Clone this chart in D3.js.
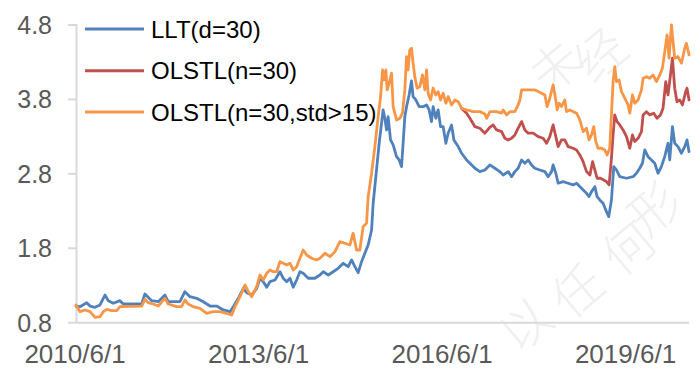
<!DOCTYPE html>
<html>
<head>
<meta charset="utf-8">
<script src="https://cdn.jsdelivr.net/npm/d3@7"></script>
<style>
  html, body { margin: 0; padding: 0; background: #fff; }
  svg { display: block; }
</style>
</head>
<body>
<svg id="chart" width="699" height="378"></svg>
<script>
// ---------- data (decimal year, value) ----------
const seriesNames = ["LLT(d=30)", "OLSTL(n=30)", "OLSTL(n=30,std>15)"];
const seriesColors = ["#4F81BD", "#C0504D", "#F79646"];
const xTickLabels = ["2010/6/1", "2013/6/1", "2016/6/1", "2019/6/1"];
const yTickValues = [0.8, 1.8, 2.8, 3.8, 4.8];
const watermarkChars = ["未", "经", "以", "任", "何", "形"];

const lltData = [
[2010.414,1.024],[2010.479,1.015],[2010.589,1.069],[2010.643,1.024],[2010.724,1.007],[2010.806,1.038],
[2010.888,1.172],[2010.942,1.096],[2011.024,1.061],[2011.133,1.096],[2011.187,1.051],[2011.488,1.051],
[2011.541,1.186],[2011.595,1.141],[2011.651,1.096],[2011.759,1.082],[2011.868,1.172],[2011.922,1.082],
[2012.113,1.082],[2012.195,1.217],[2012.277,1.149],[2012.386,1.128],[2012.494,1.082],[2012.604,1.024],
[2012.713,1.024],[2012.821,0.971],[2012.930,0.948],[2012.984,1.015],[2013.066,1.128],[2013.148,1.262],
[2013.203,1.203],[2013.285,1.172],[2013.367,1.262],[2013.421,1.397],[2013.475,1.351],[2013.530,1.276],
[2013.584,1.351],[2013.666,1.374],[2013.747,1.485],[2013.801,1.397],[2013.857,1.351],[2013.911,1.397],
[2013.965,1.276],[2014.020,1.374],[2014.074,1.485],[2014.128,1.464],[2014.210,1.397],[2014.319,1.397],
[2014.401,1.441],[2014.455,1.485],[2014.537,1.441],[2014.618,1.485],[2014.700,1.531],[2014.782,1.598],
[2014.863,1.553],[2014.919,1.643],[2014.973,1.553],[2015.027,1.472],[2015.082,1.620],[2015.136,1.733],
[2015.190,1.844],[2015.246,2.046],[2015.272,2.405],[2015.327,2.852],[2015.370,3.211],[2015.409,3.480],
[2015.435,3.659],[2015.463,3.547],[2015.491,3.390],[2015.517,3.569],[2015.556,3.256],[2015.599,3.188],
[2015.654,3.031],[2015.697,2.987],[2015.736,2.897],[2015.762,3.211],[2015.790,3.569],[2015.818,3.703],
[2015.860,3.860],[2015.899,4.049],[2015.925,3.838],[2015.970,3.793],[2016.024,3.703],[2016.089,3.703],
[2016.145,3.726],[2016.187,3.659],[2016.226,3.502],[2016.252,3.703],[2016.296,3.547],[2016.334,3.659],
[2016.373,3.434],[2016.416,3.434],[2016.460,3.211],[2016.497,3.346],[2016.553,3.457],[2016.591,3.256],
[2016.661,3.166],[2016.716,3.077],[2016.798,2.987],[2016.852,2.942],[2016.934,2.875],[2017.015,2.830],
[2017.097,2.852],[2017.179,2.920],[2017.260,2.875],[2017.342,2.830],[2017.396,2.785],[2017.478,2.830],
[2017.533,2.762],[2017.587,2.830],[2017.641,2.875],[2017.697,2.987],[2017.751,2.942],[2017.805,2.987],
[2017.860,2.920],[2017.914,2.875],[2017.996,2.852],[2018.078,2.830],[2018.132,2.762],[2018.187,2.830],
[2018.213,2.920],[2018.257,2.808],[2018.295,2.674],[2018.377,2.695],[2018.458,2.674],[2018.540,2.651],
[2018.596,2.674],[2018.677,2.606],[2018.759,2.539],[2018.801,2.494],[2018.841,2.561],[2018.895,2.628],
[2018.932,2.494],[2018.976,2.449],[2019.030,2.405],[2019.086,2.292],[2019.123,2.225],[2019.167,2.449],
[2019.205,2.897],[2019.249,2.852],[2019.303,2.762],[2019.413,2.741],[2019.521,2.762],[2019.576,2.808],
[2019.630,2.875],[2019.674,2.942],[2019.712,3.121],[2019.766,3.031],[2019.821,2.987],[2019.875,2.942],
[2019.929,2.808],[2019.984,2.897],[2020.038,3.031],[2020.092,3.211],[2020.120,2.987],[2020.164,3.434],
[2020.201,3.211],[2020.255,3.166],[2020.311,3.077],[2020.365,3.166],[2020.402,3.256],[2020.435,3.098]
];

const olstlData = [
[2016.716,3.682],[2016.798,3.615],[2016.852,3.547],[2016.934,3.434],[2017.015,3.413],[2017.097,3.346],
[2017.179,3.426],[2017.233,3.457],[2017.288,3.390],[2017.370,3.367],[2017.424,3.278],[2017.478,3.256],
[2017.533,3.278],[2017.587,3.323],[2017.641,3.413],[2017.697,3.502],[2017.751,3.390],[2017.805,3.346],
[2017.887,3.346],[2017.968,3.300],[2018.050,3.278],[2018.105,3.211],[2018.159,3.300],[2018.213,3.457],
[2018.257,3.300],[2018.295,3.166],[2018.350,3.256],[2018.404,3.256],[2018.458,3.166],[2018.540,3.144],
[2018.596,3.121],[2018.650,3.054],[2018.704,2.964],[2018.759,2.830],[2018.815,2.785],[2018.859,2.964],
[2018.895,2.852],[2018.932,2.741],[2018.988,2.741],[2019.042,2.718],[2019.086,2.695],[2019.129,2.651],
[2019.167,3.010],[2019.194,3.323],[2019.221,3.592],[2019.259,3.502],[2019.303,3.457],[2019.357,3.390],
[2019.413,3.300],[2019.467,3.144],[2019.511,3.323],[2019.548,3.233],[2019.603,3.278],[2019.658,3.367],
[2019.685,3.592],[2019.740,3.636],[2019.794,3.592],[2019.859,3.615],[2019.913,3.547],[2019.969,3.592],
[2020.011,3.682],[2020.055,4.039],[2020.092,3.860],[2020.132,4.129],[2020.164,4.354],[2020.201,3.951],
[2020.239,3.770],[2020.283,3.793],[2020.327,3.726],[2020.381,3.905],[2020.402,3.951],[2020.435,3.793]
];

const olstlStdData = [
[2010.414,1.038],[2010.479,0.948],[2010.561,0.971],[2010.643,0.948],[2010.724,0.873],[2010.806,0.881],
[2010.860,0.948],[2010.916,0.980],[2010.997,0.961],[2011.079,0.961],[2011.133,1.015],[2011.488,1.024],
[2011.541,1.115],[2011.595,1.069],[2011.677,1.051],[2011.759,1.024],[2011.868,1.128],[2011.922,1.051],
[2012.059,1.015],[2012.141,1.015],[2012.195,1.105],[2012.249,1.051],[2012.331,1.015],[2012.440,0.994],
[2012.550,0.926],[2012.657,0.948],[2012.767,0.948],[2012.876,0.926],[2012.958,0.903],[2013.012,1.015],
[2013.094,1.149],[2013.175,1.307],[2013.229,1.217],[2013.285,1.149],[2013.367,1.284],[2013.421,1.441],
[2013.475,1.374],[2013.530,1.464],[2013.584,1.508],[2013.638,1.485],[2013.694,1.485],[2013.747,1.620],
[2013.801,1.598],[2013.857,1.576],[2013.911,1.598],[2013.965,1.508],[2014.020,1.553],[2014.074,1.666],
[2014.128,1.777],[2014.184,1.710],[2014.265,1.666],[2014.347,1.643],[2014.401,1.666],[2014.483,1.733],
[2014.564,1.687],[2014.646,1.754],[2014.728,1.889],[2014.810,1.867],[2014.891,1.844],[2014.945,2.002],
[2015.000,1.777],[2015.054,1.777],[2015.108,2.090],[2015.164,2.136],[2015.190,2.494],[2015.246,2.808],
[2015.300,3.166],[2015.354,3.569],[2015.393,3.838],[2015.426,4.197],[2015.447,4.062],[2015.480,4.197],
[2015.501,3.928],[2015.534,4.018],[2015.573,4.152],[2015.599,3.703],[2015.654,3.524],[2015.708,3.547],
[2015.752,3.615],[2015.790,3.928],[2015.818,4.375],[2015.844,4.197],[2015.871,4.465],[2015.899,4.488],
[2015.925,4.287],[2015.953,4.106],[2015.991,3.951],[2016.035,3.972],[2016.079,4.129],[2016.117,3.928],
[2016.145,4.197],[2016.170,3.883],[2016.210,3.793],[2016.252,3.951],[2016.296,3.860],[2016.334,3.905],
[2016.373,3.793],[2016.416,3.883],[2016.460,3.749],[2016.497,3.838],[2016.553,3.726],[2016.607,3.793],
[2016.661,3.770],[2016.716,3.682],[2016.798,3.659],[2016.906,3.636],[2017.015,3.636],[2017.097,3.605],
[2017.125,3.547],[2017.179,3.636],[2017.288,3.636],[2017.370,3.615],[2017.396,3.659],[2017.452,3.592],
[2017.506,3.636],[2017.587,3.636],[2017.641,3.726],[2017.669,3.793],[2017.697,3.928],[2017.805,3.928],
[2017.914,3.928],[2017.968,3.905],[2018.024,3.883],[2018.078,3.860],[2018.115,3.703],[2018.159,3.816],
[2018.213,3.995],[2018.257,3.793],[2018.279,3.659],[2018.311,3.749],[2018.350,3.703],[2018.404,3.793],
[2018.432,3.636],[2018.486,3.659],[2018.540,3.636],[2018.596,3.615],[2018.650,3.524],[2018.704,3.367],
[2018.759,3.413],[2018.801,3.256],[2018.841,3.323],[2018.878,3.434],[2018.911,3.233],[2018.948,3.144],
[2019.004,3.144],[2019.058,3.121],[2019.095,3.054],[2019.139,3.144],[2019.167,3.592],[2019.194,4.039],
[2019.221,4.241],[2019.249,4.039],[2019.292,4.062],[2019.331,3.905],[2019.385,3.816],[2019.439,3.726],
[2019.467,3.615],[2019.511,3.860],[2019.548,3.749],[2019.603,3.793],[2019.658,3.928],[2019.685,4.085],
[2019.740,4.106],[2019.794,4.085],[2019.847,4.129],[2019.903,4.039],[2019.957,4.129],[2020.001,4.219],
[2020.039,4.442],[2020.077,4.667],[2020.109,4.354],[2020.148,4.801],[2020.174,4.577],[2020.201,4.354],
[2020.255,4.375],[2020.311,4.287],[2020.365,4.488],[2020.392,4.555],[2020.435,4.398]
];

// ---------- helpers ----------
function fromYear(t) {
  const y = Math.floor(t);
  const s = new Date(y, 0, 1), e = new Date(y + 1, 0, 1);
  return new Date(+s + (t - y) * (e - s));
}
const parseTick = d3.timeParse("%Y/%m/%d");

// ---------- layout ----------
const svg = d3.select("#chart");
const x = d3.scaleTime()
  .domain([new Date(2010, 5, 1), new Date(2020, 5, 8)])
  .range([76, 689]);
const y = d3.scaleLinear().domain([0.8, 4.8]).range([322.7, 25]);

// watermark (faint, rotated characters)
const wmPos = [[553, 64], [598, 52], [523, 322], [575, 288], [626, 245], [652, 206]];
svg.append("g").selectAll("text").data(watermarkChars).join("text")
  .attr("transform", (d, i) => `translate(${wmPos[i][0]},${wmPos[i][1]}) rotate(-40)`)
  .attr("text-anchor", "middle")
  .attr("dominant-baseline", "central")
  .attr("fill", "#f0f0f0")
  .style("font-family", "'Noto Sans CJK SC', sans-serif")
  .style("font-weight", 300)
  .style("font-size", "50px")
  .text(d => d);

// axes
const axisColor = "#d9d9d9";
svg.append("line")
  .attr("x1", x.range()[0]).attr("x2", x.range()[1])
  .attr("y1", y(0.8)).attr("y2", y(0.8))
  .attr("stroke", axisColor).attr("stroke-width", 2);
svg.append("line")
  .attr("x1", 76.5).attr("x2", 76.5)
  .attr("y1", y(4.8) - 1).attr("y2", y(0.8))
  .attr("stroke", axisColor).attr("stroke-width", 2);

const yAxis = svg.append("g");
yAxis.selectAll("line").data(yTickValues).join("line")
  .attr("x1", 68).attr("x2", 76)
  .attr("y1", d => y(d)).attr("y2", d => y(d))
  .attr("stroke", axisColor).attr("stroke-width", 2);
yAxis.selectAll("text").data(yTickValues).join("text")
  .attr("x", 52).attr("y", d => y(d) + 9)
  .attr("text-anchor", "end")
  .attr("fill", "#595959")
  .style("font-family", "'Liberation Sans', Arial, sans-serif")
  .style("font-size", "25px")
  .text(d => d3.format(".1f")(d));

svg.append("g").selectAll("text").data(xTickLabels).join("text")
  .attr("x", d => x(parseTick(d)) - 1)
  .attr("y", 363)
  .attr("text-anchor", "middle")
  .attr("fill", "#595959")
  .style("font-family", "'Liberation Sans', Arial, sans-serif")
  .style("font-size", "26px")
  .text(d => d);

// lines
const line = d3.line()
  .x(d => x(fromYear(d[0])))
  .y(d => y(d[1]));
const allSeries = [lltData, olstlData, olstlStdData];
svg.append("g").selectAll("path").data(allSeries).join("path")
  .attr("d", d => line(d))
  .attr("fill", "none")
  .attr("stroke", (d, i) => seriesColors[i])
  .attr("stroke-width", 2.8)
  .attr("stroke-linejoin", "round")
  .attr("stroke-linecap", "round");

// legend
const legendY = [29, 70.7, 112];
const lg = svg.append("g");
lg.selectAll("line").data(seriesNames).join("line")
  .attr("x1", 85).attr("x2", 144)
  .attr("y1", (d, i) => legendY[i]).attr("y2", (d, i) => legendY[i])
  .attr("stroke", (d, i) => seriesColors[i])
  .attr("stroke-width", 3);
lg.selectAll("text").data(seriesNames).join("text")
  .attr("x", 151).attr("y", (d, i) => legendY[i] + 8.6)
  .attr("fill", "#000")
  .style("font-family", "'Liberation Sans', Arial, sans-serif")
  .style("font-size", "24px")
  .text(d => d);
</script>
</body>
</html>
